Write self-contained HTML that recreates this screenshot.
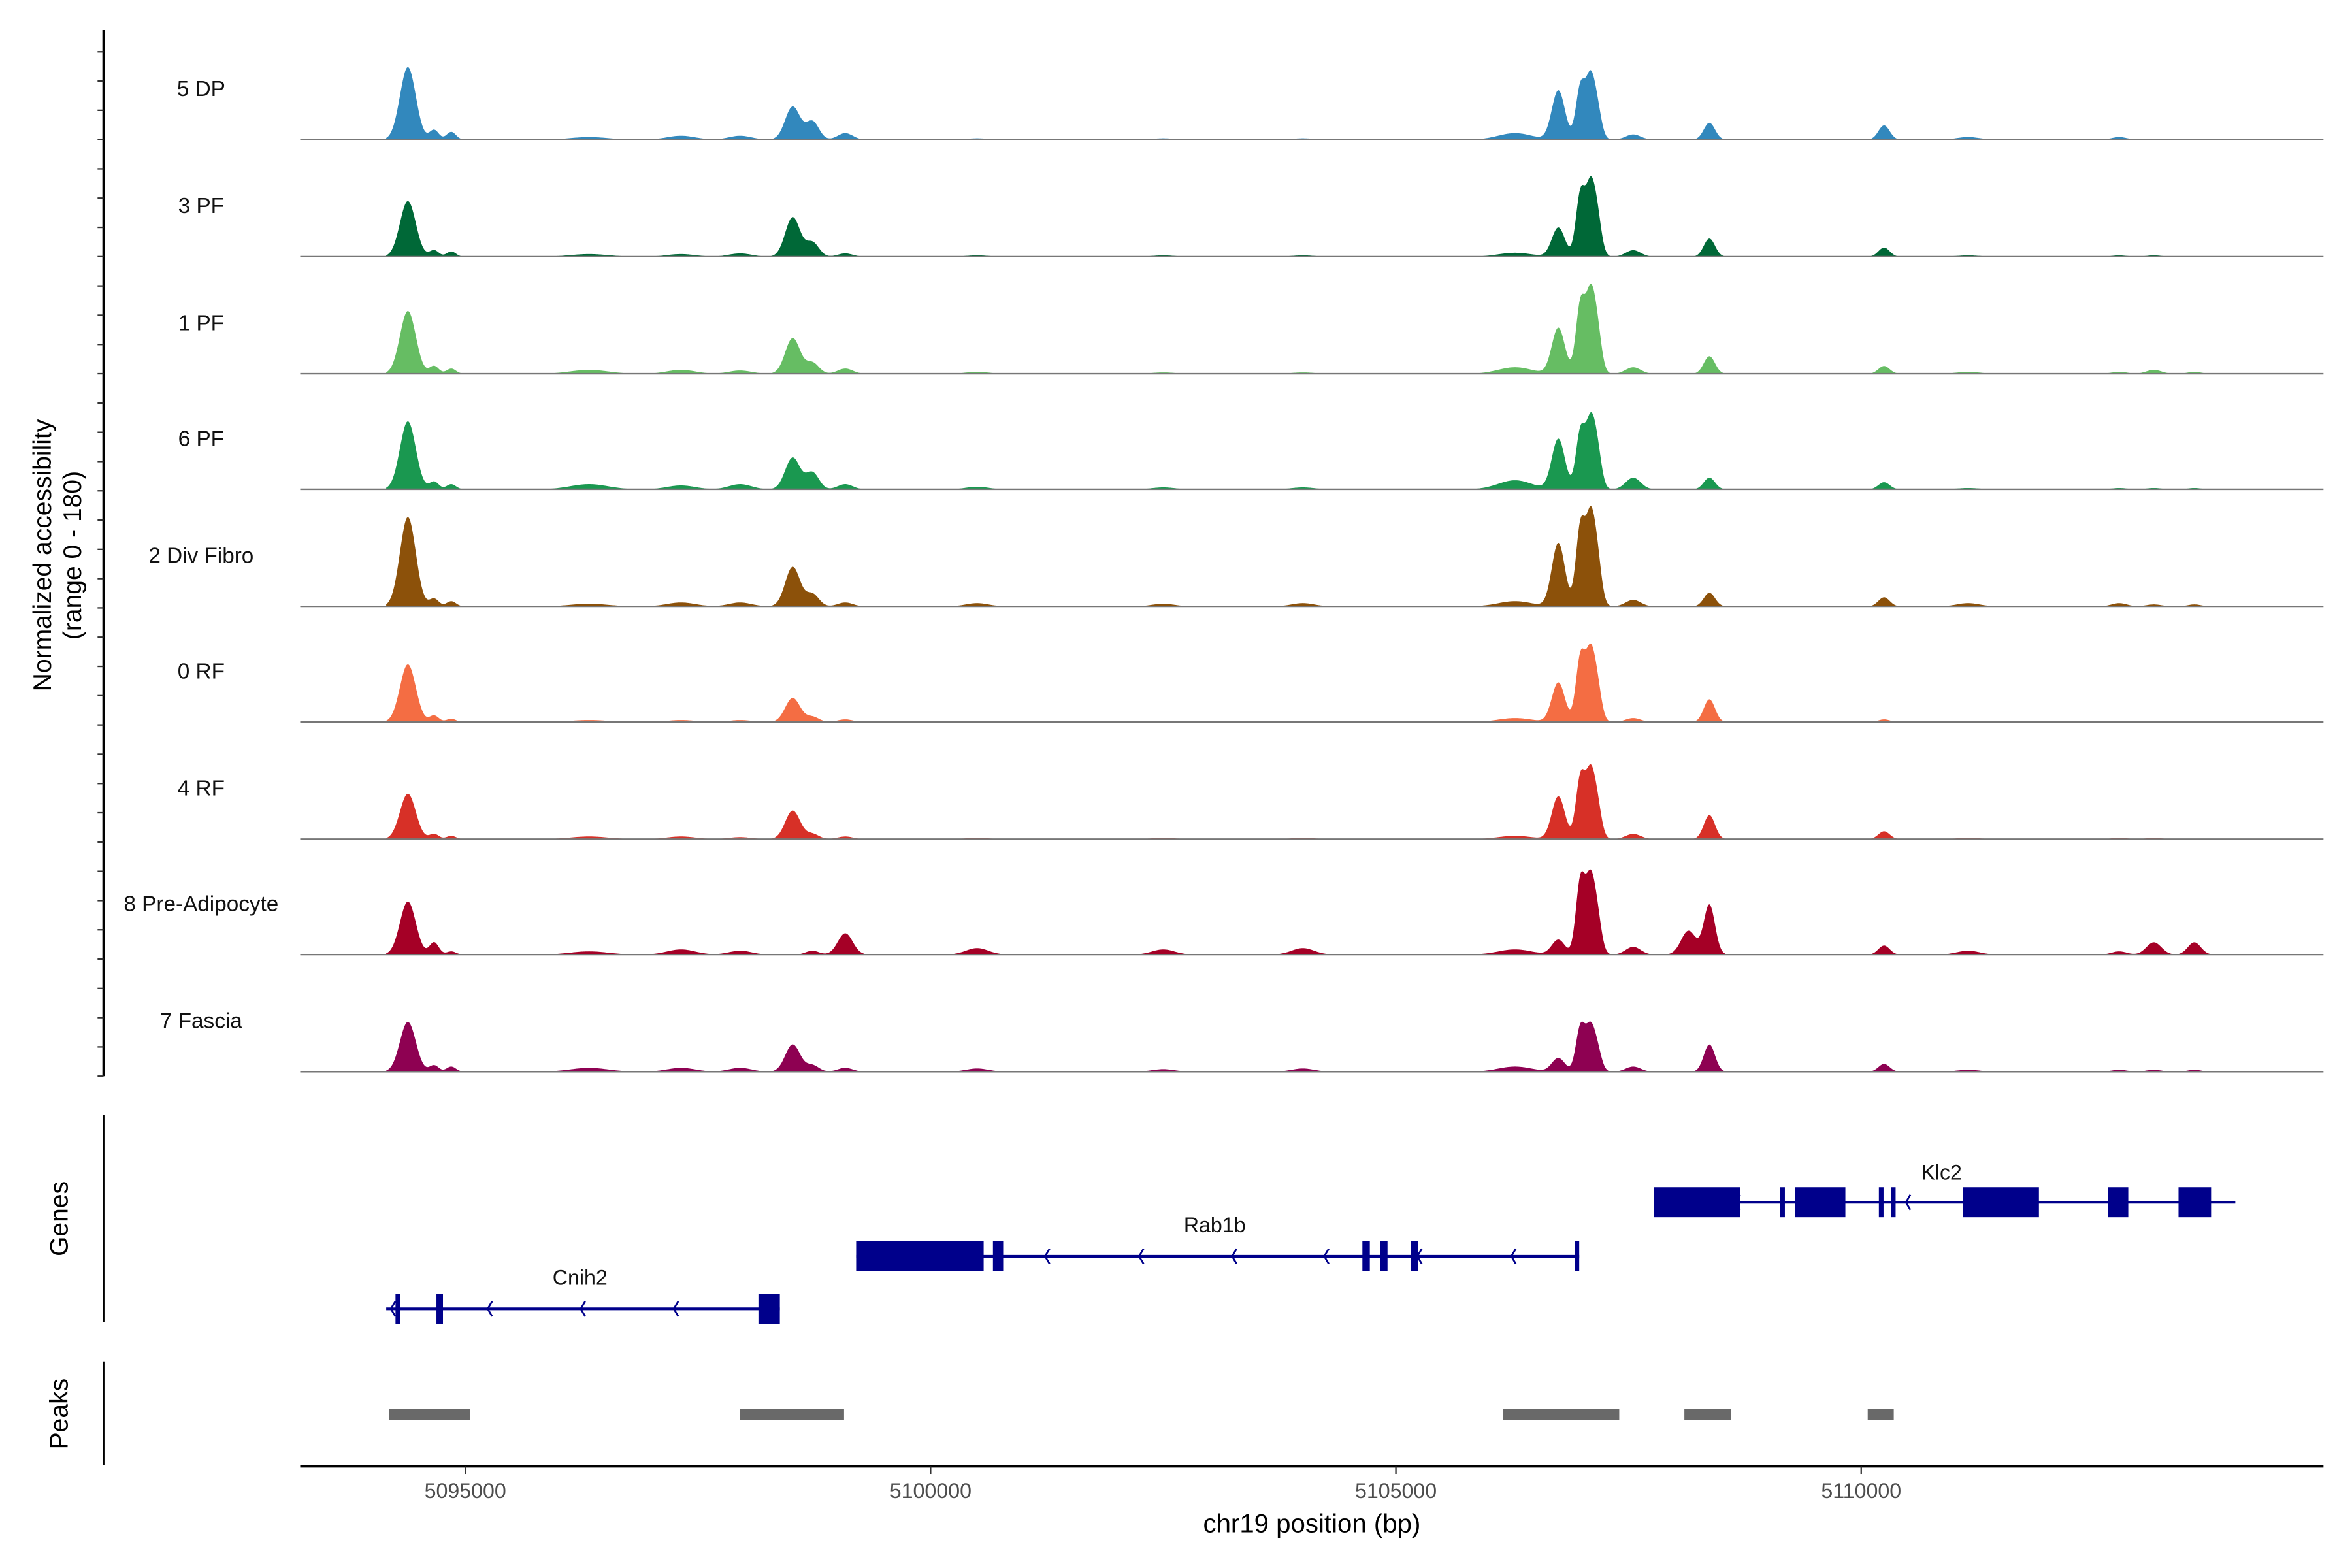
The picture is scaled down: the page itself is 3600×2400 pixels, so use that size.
<!DOCTYPE html>
<html><head><meta charset="utf-8"><style>
html,body{margin:0;padding:0;background:#fff;}
svg{display:block;}
text{font-family:"Liberation Sans",Arial,sans-serif;}
</style></head><body>
<svg id="chart" width="3600" height="2400" viewBox="0 0 1567 1044.67" preserveAspectRatio="none" xmlns="http://www.w3.org/2000/svg">
<g id="tracks"></g>
<g id="yaxis"></g>
<text transform="translate(34,370) rotate(-90)" text-anchor="middle" font-size="17">Normalized accessibility</text>
<text transform="translate(54,370) rotate(-90)" text-anchor="middle" font-size="17">(range 0 - 180)</text>
<g id="genes"></g>
<g id="peaks"></g>
<g id="xaxis"></g>
</svg>
<script>
const trackNames = ["5 DP","3 PF","1 PF","6 PF","2 Div Fibro","0 RF","4 RF","8 Pre-Adipocyte","7 Fascia"];
const trackColors = ["#3288bd","#006837","#66bd63","#1a9850","#8c510a","#f46d43","#d73027","#a50026","#8e0152"];
const peakPos = [5094383,5094665,5094849,5096330,5097318,5097953,5098518,5098730,5099083,5106280,5106746,5106986,5107085,5107155,5107550,5108369,5110246,5111149,5112772,5113145,5113580,5108145,5100500,5102500,5104000];
const peakSigma = [85,50,50,200,150,120,80,70,80,180,70,50,45,50,80,60,60,120,80,80,70,80,120,120,120];
const h5DP  = [112,15,12,4,6,6,51,28,10,10,76,84,75,54,8,26,22,4,4,0,0,0,2,2,2];
const h3PF  = [86,10,8,4,4,5,61,22,5,6,45,100,83,70,10,28,14,2,2,2,0,0,2,2,2];
const h1PF  = [97,12,8,6,6,5,55,17,8,10,71,111,94,77,10,27,12,3,3,6,3,0,3,2,2];
const h6PF  = [105,12,8,8,6,8,49,26,8,14,78,92,79,69,18,18,11,2,2,2,2,0,4,3,3];
const h2Div = [138,12,8,4,6,6,61,19,6,8,98,127,105,84,10,21,14,5,5,3,3,0,5,4,5];
const h0RF  = [89,10,5,3,3,3,37,8,4,6,61,103,83,63,6,35,4,2,2,2,0,0,2,2,2];
const h4RF  = [70,8,5,4,4,3,44,8,4,5,66,98,79,60,8,37,12,2,2,2,0,0,2,2,2];
const h8PA  = [82,19,5,5,8,6,0,6,33,8,23,118,90,67,12,77,14,6,5,19,19,37,10,8,10];
const h7Fas = [77,10,8,6,6,6,42,10,6,8,21,71,53,39,8,42,12,3,3,3,3,0,5,4,5];
const trackHeights = [h5DP,h3PF,h1PF,h6PF,h2Div,h0RF,h4RF,h8PA,h7Fas];
const xTicks = [5095000,5100000,5105000,5110000];
const peakRegions = [[5094180,5095050],[5097950,5099070],[5106150,5107400],[5108100,5108600],[5110070,5110350]];
const geneNames = ["Klc2","Rab1b","Cnih2"];
const geneSpans = [[5107770,5114020],[5099200,5106970],[5094150,5098380]];
const geneExons = [
 [[5107770,5108700],[5109130,5109180],[5109290,5109830],[5110190,5110240],[5110320,5110370],[5111090,5111910],[5112650,5112870],[5113410,5113760]],
 [[5099200,5100570],[5100670,5100780],[5104640,5104720],[5104830,5104910],[5105160,5105240],[5106920,5106970]],
 [[5094250,5094300],[5094690,5094760],[5098150,5098380]]];
const geneArrows = [[5108650,5110480],[5101230,5102240,5103240,5104230,5105230,5106240],[5094200,5095240,5096240,5097240]];

const NS="http://www.w3.org/2000/svg";
const X0=310, BP0=5095000, PXBP=0.062;
function xs(bp){return X0+(bp-BP0)*PXBP;}
const baselines=[93,171,249,326,404,481,559,636,714];
const UNIT=77.6/180;
function ys(v,i){return baselines[i]-Math.min(v,180)*UNIT;}
function mk(tag,attrs,parent){const e=document.createElementNS(NS,tag);for(const k in attrs)e.setAttribute(k,attrs[k]);parent.appendChild(e);return e;}

const tracks=document.getElementById('tracks');
trackNames.forEach((name,i)=>{
  const g=mk('g',{},tracks);
  
  
  const hs=trackHeights[i];
  let d='M'+xs(5094150).toFixed(2)+','+baselines[i];
  for(let bp=5094150;bp<=5113900;bp+=10){
    let v=0;
    for(let k=0;k<peakPos.length;k++){const z=(bp-peakPos[k])/peakSigma[k];if(Math.abs(z)<5)v+=hs[k]*Math.exp(-0.5*z*z);}
    d+=' L'+xs(bp).toFixed(2)+','+ys(v,i).toFixed(2);
  }
  d+=' L'+xs(5113900).toFixed(2)+','+baselines[i]+' Z';
  const p=mk('path',{d:d,fill:trackColors[i],stroke:'none'},g);
  
  
  const l=mk('line',{x1:200,x2:1548,y1:baselines[i],y2:baselines[i],stroke:'#777','stroke-width':1},g);
  
  
  const t=mk('text',{x:134,y:baselines[i]-29,'text-anchor':'middle','font-size':14.5,fill:'#111'},g);
  
  
  t.textContent=name;
});

const yaxis=document.getElementById('yaxis');
let ya=mk('line',{x1:69,x2:69,y1:20,y2:717,stroke:'#000','stroke-width':1.6},yaxis);


for(let k=0;k<36;k++){const y=34.5+k*19.5;mk('line',{x1:65,x2:69,y1:y,y2:y,stroke:'#333','stroke-width':1},yaxis);}

const genes=document.getElementById('genes');
const geneY=[801,837,872], labelY=[786,821,856];
const C='#00008B';
geneNames.forEach((n,i)=>{
  const g=mk('g',{},genes);
  
  
  const y=geneY[i];
  mk('line',{x1:xs(geneSpans[i][0]),x2:xs(geneSpans[i][1]),y1:y,y2:y,stroke:C,'stroke-width':1.8},g);
  geneExons[i].forEach(e=>{
    const r=mk('rect',{x:xs(e[0]),y:y-10,width:Math.max(2,xs(e[1])-xs(e[0])),height:20,fill:C},g);
    
    
  });
  geneArrows[i].forEach(a=>{const x=xs(a);mk('polyline',{points:(x+3)+','+(y-5)+' '+x+','+y+' '+(x+3)+','+(y+5),fill:'none',stroke:C,'stroke-width':1.2},g);});
  const t=mk('text',{x:xs((geneSpans[i][0]+geneSpans[i][1])/2)-2,y:labelY[i],'text-anchor':'middle','font-size':14,fill:'#111'},g);
  
  
  t.textContent=n;
});
let gl=mk('line',{x1:69,x2:69,y1:743,y2:881,stroke:'#000','stroke-width':1.2},genes);


let gt=mk('text',{transform:'translate(45,812) rotate(-90)','text-anchor':'middle','font-size':17},genes);


gt.textContent='Genes';

const peaks=document.getElementById('peaks');
peakRegions.forEach(r=>{
  const e=mk('rect',{x:xs(r[0]),y:938.5,width:xs(r[1])-xs(r[0]),height:7.5,fill:'#696969'},peaks);
  
  
});
let pl=mk('line',{x1:69,x2:69,y1:907,y2:976,stroke:'#000','stroke-width':1.2},peaks);


let pt=mk('text',{transform:'translate(45,942) rotate(-90)','text-anchor':'middle','font-size':17},peaks);


pt.textContent='Peaks';

const xaxis=document.getElementById('xaxis');
let xl=mk('line',{x1:200,x2:1548,y1:977,y2:977,stroke:'#000','stroke-width':1.6},xaxis);


xTicks.forEach(v=>{
  const x=xs(v);
  mk('line',{x1:x,x2:x,y1:977,y2:982,stroke:'#333','stroke-width':1},xaxis);
  const t=mk('text',{x:x,y:998,'text-anchor':'middle','font-size':14,fill:'#4d4d4d'},xaxis);
  
  
  t.textContent=v;
});
let xt=mk('text',{x:874,y:1021,'text-anchor':'middle','font-size':17.5},xaxis);


xt.textContent='chr19 position (bp)';
</script>
</body></html>
